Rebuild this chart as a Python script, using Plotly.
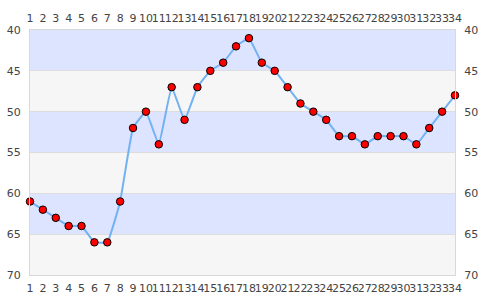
import plotly.graph_objects as go

x_vals = list(range(1, 35))
y_vals = [61, 62, 63, 64, 64, 66, 66, 61, 52, 50, 54, 47, 51, 47, 45, 44, 42, 41,
          44, 45, 47, 49, 50, 51, 53, 53, 54, 53, 53, 53, 54, 52, 50, 48]
y_ticks = [40, 45, 50, 55, 60, 65, 70]
bands = [(40, 45, "#dde4ff"), (45, 50, "#f6f6f6"), (50, 55, "#dde4ff"),
         (55, 60, "#f6f6f6"), (60, 65, "#dde4ff"), (65, 70, "#f6f6f6")]

fig = go.Figure()
fig.add_trace(go.Scatter(
    x=x_vals, y=y_vals, mode="lines+markers",
    line=dict(color="#72b2f2", width=2, shape="spline", smoothing=0.3),
    marker=dict(color="#ff0000", size=7.5, line=dict(color="#000000", width=1)),
    cliponaxis=False, hoverinfo="x+y", showlegend=False,
))
fig.add_trace(go.Scatter(x=[x_vals[0]], y=[y_vals[0]], xaxis="x2", yaxis="y2",
                         mode="markers", marker=dict(opacity=0), showlegend=False,
                         hoverinfo="skip"))

for lo, hi, col in bands:
    fig.add_shape(type="rect", xref="paper", yref="y", x0=0, x1=1, y0=lo, y1=hi,
                  fillcolor=col, line=dict(width=0), layer="below")

tickfont = dict(family="DejaVu Sans", size=11, color="#444444")
common_x = dict(range=[1, 34], tickmode="array", tickvals=x_vals,
                ticktext=[str(v) for v in x_vals], showgrid=False, zeroline=False,
                tickfont=tickfont, ticks="", showline=True, linecolor="#d8d8d8",
                linewidth=1, fixedrange=True, tickangle=0, automargin=False,
                ticklabelstandoff=3)
common_y = dict(range=[70, 40], tickmode="array", tickvals=y_ticks,
                ticktext=[str(v) for v in y_ticks], showgrid=True, gridcolor="#dddddd",
                gridwidth=1, zeroline=False, tickfont=tickfont, ticks="",
                showline=True, linecolor="#d8d8d8", linewidth=1, fixedrange=True,
                automargin=False, ticklabelstandoff=6)

fig.update_layout(
    width=485, height=300,
    margin=dict(l=30, r=30, t=30, b=25),
    paper_bgcolor="white", plot_bgcolor="rgba(0,0,0,0)",
    xaxis=dict(**common_x, side="bottom"),
    xaxis2=dict(**common_x, side="top", overlaying="x", anchor="y"),
    yaxis=dict(**common_y, side="left"),
    yaxis2=dict(**common_y, side="right", overlaying="y", anchor="x"),
    font=tickfont,
)
fig.write_html("out.html")
